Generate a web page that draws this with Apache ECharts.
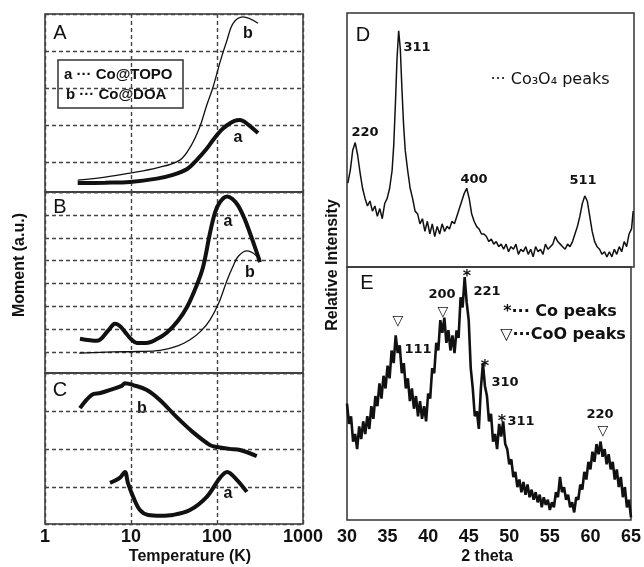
<!DOCTYPE html>
<html>
<head>
<meta charset="utf-8">
<script src="https://cdn.jsdelivr.net/npm/echarts@6/dist/echarts.min.js"></script>
<style>html,body{margin:0;background:#fff}#chart{width:644px;height:567px}</style>
</head>
<body>
<div id="chart"></div>
<script>
// magnetisation vs temperature, [T (K), moment a.u.]
const panelA_topo = [[2.4,0.24],[5,0.25],[9.7,0.27],[20,0.36],[30.7,0.46],[45,0.62],[58,0.86],[75,1.15],[90,1.4],[110,1.65],[131,1.8],[160,1.92],[185,1.94],[230,1.82],[300,1.59]];
const panelA_doa = [[2.4,0.32],[5,0.4],[9.7,0.51],[20,0.65],[37,0.86],[50,1.25],[63,1.75],[75,2.3],[90,2.83],[110,3.55],[131,4.1],[154,4.55],[200,4.72],[300,4.55]];
const panelB_topo = [[2.55,1.51],[4.0,1.42],[5.5,1.9],[6.5,2.18],[7.3,2.1],[8.5,1.82],[10,1.5],[11.7,1.33],[15,1.33],[20,1.5],[26,1.78],[35,2.3],[45,2.93],[57,3.8],[69,4.7],[83,6.2],[95,7.1],[108,7.55],[131,7.8],[150,7.7],[176,7.4],[210,6.8],[241,6.2],[280,5.5],[316,4.9]];
const panelB_doa = [[2.5,0.88],[6.2,0.93],[12,0.95],[21.8,1.0],[35,1.2],[48.5,1.47],[65,1.85],[83,2.35],[105,3.1],[131,4.1],[155,4.75],[176,5.15],[222,5.4],[262,5.3],[316,5.0]];
const panelC_doa = [[2.55,3.07],[3.5,3.42],[4.4,3.47],[6.2,3.58],[7.8,3.66],[8.5,3.73],[10.6,3.68],[15.3,3.55],[21.8,3.28],[34,2.83],[52,2.44],[83,2.09],[100,2.04],[140,1.99],[185,1.96],[290,1.8]];
const panelC_topo = [[5.7,1.09],[7.4,1.22],[8.5,1.38],[9.2,1.09],[10.6,0.72],[12.7,0.37],[15.8,0.24],[22,0.22],[30.7,0.24],[48.5,0.37],[76,0.72],[108,1.22],[131,1.38],[170,1.17],[222,0.85]];

// XRD patterns, [2 theta, relative intensity]
const xrdD = [[30.1,33],[30.4,38],[30.7,46],[31.0,49],[31.3,44],[31.6,37],[31.9,31],[32.2,27],[32.5,24],[32.8,26],[33.1,22],[33.4,24],[33.7,20],[34.0,23],[34.3,19],[34.6,25],[34.9,27],[35.2,31],[35.5,38],[35.7,48],[35.9,64],[36.1,82],[36.3,93],[36.5,86],[36.7,70],[36.9,56],[37.1,46],[37.4,38],[37.7,31],[38.0,27],[38.3,22],[38.6,21],[38.9,17],[39.2,19],[39.5,14],[39.8,18],[40.1,13],[40.4,17],[40.7,12],[41.0,16],[41.3,13],[41.6,17],[41.9,14],[42.2,16],[42.5,15],[42.8,18],[43.1,17],[43.4,20],[43.7,23],[44.0,26],[44.3,29],[44.6,31],[44.9,27],[45.2,21],[45.5,18],[45.8,16],[46.1,15],[46.4,13],[46.7,13],[47.0,12],[47.3,10],[47.6,11],[47.9,9],[48.2,10],[48.5,8],[48.8,9],[49.1,7],[49.4,9],[49.7,6],[50.0,8],[50.3,7],[50.6,9],[50.9,5],[51.2,7],[51.5,6],[51.8,8],[52.1,5],[52.4,7],[52.7,4],[53.0,8],[53.3,6],[53.6,7],[53.9,5],[54.2,9],[54.5,7],[54.8,8],[55.1,9],[55.4,12],[55.7,10],[56.0,9],[56.3,8],[56.6,7],[56.9,9],[57.2,8],[57.5,10],[57.8,13],[58.1,16],[58.4,20],[58.7,25],[59.0,28],[59.3,26],[59.6,20],[59.9,14],[60.2,10],[60.5,8],[60.8,7],[61.1,5],[61.4,6],[61.7,4],[62.0,6],[62.3,4],[62.6,7],[62.9,5],[63.2,8],[63.5,6],[63.8,10],[64.1,8],[64.4,13],[64.7,15],[64.9,22]];
const xrdE = [[30.00,46],[30.25,38],[30.50,41],[30.75,31],[31.00,34],[31.25,28],[31.50,37],[31.75,32],[32.00,39],[32.25,34],[32.50,41],[32.75,36],[33.00,45],[33.25,40],[33.50,49],[33.75,45],[34.00,54],[34.25,48],[34.50,57],[34.75,52],[35.00,61],[35.25,56],[35.50,67],[35.75,62],[36.00,73],[36.25,66],[36.50,69],[36.75,58],[37.00,62],[37.25,52],[37.50,56],[37.75,47],[38.00,52],[38.25,44],[38.50,49],[38.75,41],[39.00,47],[39.25,40],[39.50,45],[39.75,39],[40.00,50],[40.25,48],[40.50,60],[40.75,58],[41.00,70],[41.25,67],[41.50,79],[41.75,74],[42.00,80],[42.25,70],[42.50,75],[42.75,67],[43.00,73],[43.25,66],[43.50,75],[43.75,72],[44.00,88],[44.25,84],[44.50,96],[44.75,86],[45.00,79],[45.25,60],[45.50,52],[45.75,41],[46.00,43],[46.25,36],[46.50,52],[46.75,62],[47.00,53],[47.25,49],[47.50,39],[47.75,42],[48.00,31],[48.25,34],[48.50,28],[48.75,38],[49.00,33],[49.25,39],[49.50,30],[49.75,28],[50.00,22],[50.25,24],[50.50,17],[50.75,19],[51.00,13],[51.25,16],[51.50,11],[51.75,15],[52.00,10],[52.25,14],[52.50,9],[52.75,12],[53.00,8],[53.25,11],[53.50,7],[53.75,10],[54.00,5],[54.25,9],[54.50,6],[54.75,8],[55.00,4],[55.25,7],[55.50,5],[55.75,11],[56.00,9],[56.25,17],[56.50,11],[56.75,13],[57.00,8],[57.25,10],[57.50,5],[57.75,7],[58.00,3],[58.25,9],[58.50,8],[58.75,14],[59.00,12],[59.25,19],[59.50,16],[59.75,23],[60.00,20],[60.25,27],[60.50,23],[60.75,30],[61.00,26],[61.25,31],[61.50,25],[61.75,28],[62.00,22],[62.25,26],[62.50,20],[62.75,23],[63.00,16],[63.25,20],[63.50,13],[63.75,17],[64.00,9],[64.25,13],[64.50,5],[64.75,8],[65.00,1]];

const thetaRange = [30, 65];
const tempRange = [1, 1000];
const tempTickLabels = { 1: '1', 10: '10', 100: '100', 1000: '1000' };

const chart = echarts.init(document.getElementById('chart'));
const dash = { type: [4, 3], color: '#444', width: 1.4 };
const ink = '#111';
const border = { show: true, borderColor: '#333', borderWidth: 1.5 };

function tempAxis(gi, labels) {
  return {
    type: 'log', logBase: 10, min: tempRange[0], max: tempRange[1], gridIndex: gi,
    axisLine: { show: false }, axisTick: { show: false },
    axisLabel: {
      show: labels, color: ink, fontSize: 18, fontWeight: 'bold', fontFamily: 'Liberation Sans', margin: 4,
      showMinLabel: true, showMaxLabel: true,
      formatter: v => tempTickLabels[Math.round(v)] || ''
    },
    splitLine: { show: true, lineStyle: dash }
  };
}
function thetaAxis(gi, labels) {
  return {
    type: 'value', min: thetaRange[0], max: thetaRange[1], interval: 5, gridIndex: gi,
    axisLine: { show: false }, axisTick: { show: false }, splitLine: { show: false },
    axisLabel: { show: labels, color: ink, fontSize: 18, fontWeight: 'bold', fontFamily: 'Liberation Sans', margin: 8, showMinLabel: true, showMaxLabel: true }
  };
}
function dataAxis(gi, max) {
  return { type: 'value', gridIndex: gi, min: 0, max: max, show: false };
}
// dashed horizontal guides, counted from the top of each panel
function guideAxis(gi, span) {
  return {
    type: 'value', gridIndex: gi, inverse: true, min: 0, max: span, interval: 1,
    axisLine: { show: false }, axisTick: { show: false }, axisLabel: { show: false },
    splitLine: { show: true, lineStyle: dash }
  };
}
function curve(data, xi, yi, thick) {
  return {
    type: 'line', data: data, xAxisIndex: xi, yAxisIndex: yi,
    showSymbol: false, smooth: 0.35, silent: true,
    lineStyle: { color: ink, width: thick ? 4 : 1.3 }
  };
}
function txt(x, y, s, font, extra) {
  return Object.assign({
    type: 'text', x: x, y: y, silent: true,
    style: { text: s, font: font, fill: ink, textAlign: 'center', textVerticalAlign: 'middle' }
  }, extra || {});
}
function ltxt(x, y, s, font) {
  return { type: 'text', x: x, y: y, silent: true, style: { text: s, font: font, fill: ink, textAlign: 'left', textVerticalAlign: 'middle' } };
}

const fLetter = '20px "Liberation Sans"';
const fTag = 'bold 16px "Liberation Sans"';
const fNum = 'bold 13px "DejaVu Sans"';
const fBig = 'bold 16px "Liberation Sans"';

const option = {
  animation: false,
  backgroundColor: '#fff',
  grid: [
    Object.assign({ left: 45, top: 14, width: 258, height: 178 }, border),
    Object.assign({ left: 45, top: 192, width: 258, height: 181 }, border),
    Object.assign({ left: 45, top: 373, width: 258, height: 151 }, border),
    Object.assign({ left: 347, top: 13, width: 287, height: 254 }, border),
    Object.assign({ left: 347, top: 267, width: 287, height: 253 }, border)
  ],
  xAxis: [tempAxis(0, false), tempAxis(1, false), tempAxis(2, true), thetaAxis(3, false), thetaAxis(4, true)],
  yAxis: [
    dataAxis(0, 4.8), dataAxis(1, 8), dataAxis(2, 4), dataAxis(3, 100), dataAxis(4, 100),
    guideAxis(0, 4.81), guideAxis(1, 7.9), guideAxis(2, 3.95)
  ],
  series: [
    curve(panelA_doa, 0, 0, false),
    curve(panelA_topo, 0, 0, true),
    curve(panelB_doa, 1, 1, false),
    curve(panelB_topo, 1, 1, true),
    curve(panelC_doa, 2, 2, true),
    curve(panelC_topo, 2, 2, true),
    { type: 'line', data: xrdD, xAxisIndex: 3, yAxisIndex: 3, showSymbol: false, silent: true, lineStyle: { color: ink, width: 1.5 } },
    { type: 'line', data: xrdE, xAxisIndex: 4, yAxisIndex: 4, showSymbol: false, silent: true, lineStyle: { color: ink, width: 2.6 } }
  ],
  graphic: [
    txt(60, 33, 'A', fLetter), txt(60, 207, 'B', fLetter), txt(60, 390, 'C', fLetter),
    txt(248, 34, 'b', fTag), txt(238, 138, 'a', fTag),
    txt(228, 222, 'a', fTag), txt(250, 273, 'b', fTag),
    txt(142, 409, 'b', fTag), txt(228, 494, 'a', fTag),
    { type: 'rect', silent: true, shape: { x: 58, y: 60, width: 125, height: 48 }, style: { fill: '#fff', stroke: '#333', lineWidth: 1.5 } },
    ltxt(64, 75, 'a ··· Co@TOPO', 'bold 15px "Liberation Sans"'),
    ltxt(66, 95, 'b ··· Co@DOA', 'bold 15px "Liberation Sans"'),
    txt(20, 265, 'Moment (a.u.)', fBig, { rotation: Math.PI / 2 }),
    txt(190, 557, 'Temperature (K)', fBig),

    txt(363, 35, 'D', fLetter), txt(367, 283, 'E', fLetter),
    txt(417, 48, '311', fNum), txt(365, 133, '220', fNum), txt(474, 180, '400', fNum), txt(583, 181, '511', fNum),
    txt(550, 80, '··· Co₃O₄ peaks', '16px "DejaVu Sans"'),
    txt(398, 321, '▽', '14px "DejaVu Sans"'), txt(418, 350, '111', fNum),
    txt(443, 312, '▽', '14px "DejaVu Sans"'), txt(442, 295, '200', fNum),
    txt(467, 277, '*', 'bold 16px "DejaVu Sans"'), txt(487, 292, '221', fNum),
    txt(560, 312, '*··· Co peaks', 'bold 16px "DejaVu Sans"'),
    txt(563, 335, '▽···CoO peaks', 'bold 16px "DejaVu Sans"'),
    txt(485, 367, '*', 'bold 16px "DejaVu Sans"'), txt(505, 383, '310', fNum),
    txt(502, 422, '*', 'bold 16px "DejaVu Sans"'), txt(521, 422, '311', fNum),
    txt(600, 415, '220', fNum), txt(603, 431, '▽', '14px "DejaVu Sans"'),
    txt(333, 265, 'Relative Intensity', fBig, { rotation: Math.PI / 2 }),
    txt(487, 557, '2 theta', fBig)
  ]
};
chart.setOption(option);
</script>
</body>
</html>
